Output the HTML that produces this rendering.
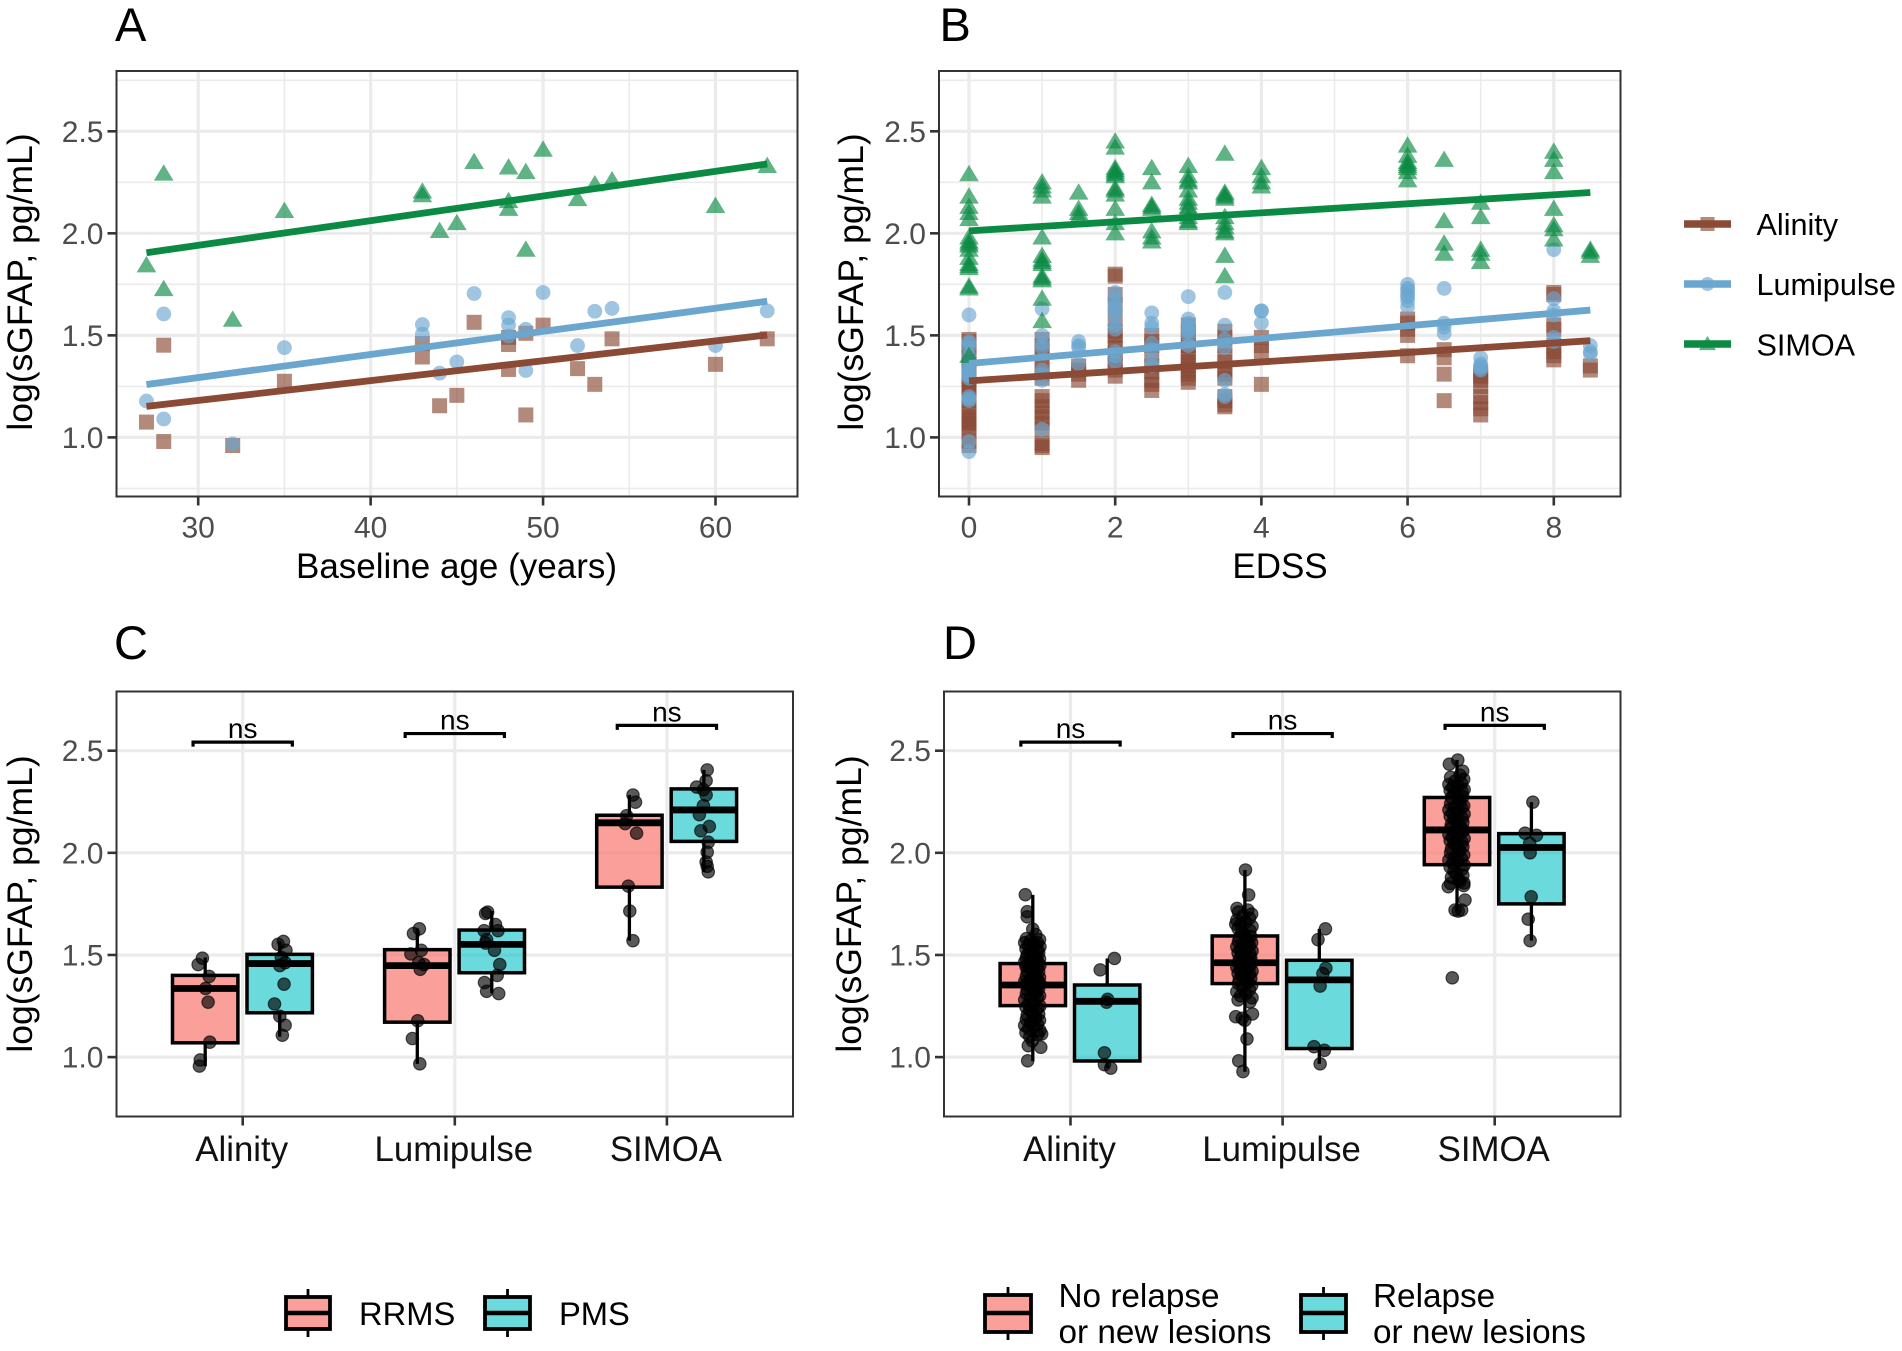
<!DOCTYPE html>
<html lang="en">
<head>
<meta charset="utf-8">
<title>sGFAP chart panels</title>
<style>
html,body{margin:0;padding:0;background:#fff;}
svg{display:block;font-family:"Liberation Sans",Arial,sans-serif;}
</style>
</head>
<body>
<svg id="chart" xmlns="http://www.w3.org/2000/svg" width="1902" height="1351" viewBox="0 0 1902 1351"></svg>
<script>
/* ---------- shared chart text ---------- */
const assays = ["Alinity", "Lumipulse", "SIMOA"];
const yTicks = [1.0, 1.5, 2.0, 2.5];
const yMinorTicks = [0.75, 1.25, 1.75, 2.25, 2.75];
const yTitle = "log(sGFAP, pg/mL)";

/* ---------- Panel A: baseline age ---------- */
const ageTicks = [30, 40, 50, 60];
const ageMinorTicks = [35, 45, 55];
const ageAlinityX = [27,28,28,32,35,43,43,44,45,46,48,48,48,49,49,50,52,53,54,60,63];
const ageAlinityY = [1.075,1.452,0.98,0.96,1.275,1.46,1.394,1.155,1.206,1.564,1.455,1.49,1.333,1.51,1.11,1.55,1.337,1.26,1.483,1.358,1.483];
const ageLumipulseX = [27,28,28,32,35,43,43,44,45,46,48,48,48,49,49,50,52,53,54,60,63];
const ageLumipulseY = [1.178,1.605,1.09,0.968,1.44,1.553,1.506,1.315,1.37,1.705,1.587,1.55,1.497,1.53,1.328,1.71,1.45,1.618,1.632,1.45,1.62];
const ageSimoaX = [27,28,28,32,35,43,43,44,45,46,48,48,48,49,49,50,52,53,54,60,63];
const ageSimoaY = [1.843,2.293,1.727,1.577,2.11,2.205,2.187,2.012,2.05,2.35,2.323,2.158,2.12,2.30,1.92,2.41,2.168,2.24,2.26,2.134,2.33];
const ageFitX = [27, 63];
const ageFitAlinity = [1.152, 1.502];
const ageFitLumipulse = [1.259, 1.667];
const ageFitSimoa = [1.905, 2.34];

/* ---------- Panel B: EDSS ---------- */
const edssTicks = [0, 2, 4, 6, 8];
const edssMinorTicks = [1, 3, 5, 7];
const edssLevels = [0, 1, 1.5, 2, 2.5, 3, 3.5, 4, 6, 6.5, 7, 8, 8.5];
const edssAlinity = [
 [1.48,1.47,1.45,1.43,1.40,1.38,1.36,1.34,1.32,1.30,1.28,1.26,1.24,1.22,1.20,1.18,1.15,1.12,1.10,1.08,1.07,1.05,1.03,0.98,0.96],
 [1.48,1.45,1.42,1.38,1.35,1.31,1.29,1.20,1.18,1.15,1.12,1.10,1.07,1.04,0.97,0.96,0.95],
 [1.35,1.33,1.31,1.28],
 [1.80,1.79,1.70,1.65,1.58,1.52,1.50,1.47,1.44,1.41,1.38,1.35,1.33,1.30],
 [1.50,1.47,1.45,1.40,1.35,1.32,1.28,1.26,1.23],
 [1.55,1.52,1.48,1.45,1.42,1.39,1.37,1.35,1.33,1.31,1.29,1.27],
 [1.52,1.49,1.45,1.40,1.37,1.33,1.31,1.29,1.20,1.18,1.16,1.15],
 [1.49,1.45,1.42,1.26],
 [1.58,1.56,1.53,1.50,1.40],
 [1.43,1.39,1.31,1.18],
 [1.32,1.30,1.28,1.25,1.20,1.17,1.14,1.11],
 [1.71,1.70,1.55,1.53,1.45,1.42,1.40,1.38],
 [1.35,1.33]
];
const edssLumipulse = [
 [1.60,1.47,1.46,1.44,1.40,1.36,1.34,1.33,1.32,1.31,1.30,1.29,1.20,1.19,1.18,0.98,0.93],
 [1.63,1.50,1.46,1.44,1.33,1.31,1.28,1.04],
 [1.47,1.45,1.44,1.36],
 [1.71,1.68,1.66,1.64,1.62,1.60,1.55,1.53,1.42,1.40,1.37],
 [1.61,1.56,1.54,1.46,1.43,1.37,1.35],
 [1.69,1.58,1.56,1.54,1.53,1.52,1.50,1.45],
 [1.71,1.55,1.48,1.44,1.28,1.21,1.20],
 [1.62,1.62,1.56],
 [1.75,1.73,1.72,1.70,1.69,1.67,1.64],
 [1.73,1.56,1.54,1.51],
 [1.39,1.36,1.35,1.34,1.33],
 [1.92,1.68,1.62,1.60,1.49,1.47],
 [1.45,1.42,1.41]
];
const edssSimoa = [
 [2.29,2.18,2.13,2.10,2.07,1.98,1.96,1.95,1.94,1.92,1.88,1.85,1.84,1.83,1.74,1.73,1.40],
 [2.25,2.23,2.21,2.18,1.98,1.89,1.87,1.86,1.85,1.79,1.78,1.77,1.68,1.57],
 [2.20,2.12,2.10,2.08],
 [2.45,2.42,2.32,2.31,2.30,2.29,2.28,2.22,2.21,2.19,2.12,2.05,2.00],
 [2.32,2.25,2.14,2.13,2.12,2.01,1.98,1.96],
 [2.33,2.28,2.26,2.25,2.21,2.17,2.15,2.13,2.12,2.08,2.06,2.05],
 [2.39,2.20,2.19,2.18,2.17,2.08,2.05,2.03,2.01,2.00,1.89,1.79],
 [2.32,2.28,2.25,2.23],
 [2.43,2.38,2.35,2.34,2.33,2.32,2.30,2.26],
 [2.36,2.06,1.95,1.90],
 [2.15,2.08,1.92,1.90,1.86],
 [2.40,2.36,2.30,2.12,2.04,2.02,1.97],
 [1.92,1.91,1.89]
];
const edssFitX = [0, 8.5];
const edssFitAlinity = [1.277, 1.474];
const edssFitLumipulse = [1.362, 1.624];
const edssFitSimoa = [2.012, 2.20];

/* ---------- Panel C: RRMS vs PMS (lowWhisker, q1, median, q3, highWhisker) ---------- */
const rrmsBoxes = [[0.955,1.07,1.336,1.40,1.488],[0.967,1.171,1.448,1.526,1.63],[1.57,1.832,2.147,2.184,2.283]];
const pmsBoxes = [[1.10,1.217,1.458,1.503,1.566],[1.313,1.413,1.552,1.622,1.715],[1.907,2.056,2.21,2.313,2.406]];
const rrmsValues = [
 [1.484,1.453,1.395,1.336,1.269,1.073,0.986,0.956],
 [1.628,1.605,1.523,1.505,1.462,1.453,1.43,1.178,1.091,0.967],
 [2.283,2.248,2.182,2.143,2.096,1.837,1.715,1.57]
];
const rrmsJitter = [
 [-0.19,-0.21,-0.158,-0.175,-0.163,-0.155,-0.2,-0.204],
 [-0.167,-0.195,-0.158,-0.207,-0.17,-0.145,-0.163,-0.175,-0.2,-0.165],
 [-0.16,-0.148,-0.19,-0.197,-0.143,-0.182,-0.175,-0.16]
];
const pmsValues = [
 [1.566,1.552,1.523,1.488,1.462,1.448,1.357,1.26,1.2,1.156,1.107],
 [1.71,1.703,1.649,1.619,1.619,1.575,1.558,1.523,1.453,1.4,1.365,1.322,1.311],
 [2.406,2.353,2.322,2.309,2.283,2.231,2.187,2.129,2.108,2.052,2.003,1.955,1.934,1.907]
];
const pmsJitter = [
 [0.192,0.167,0.204,0.182,0.2,0.175,0.195,0.15,0.175,0.2,0.187],
 [0.155,0.145,0.192,0.138,0.204,0.15,0.145,0.187,0.212,0.2,0.14,0.15,0.207],
 [0.19,0.185,0.14,0.172,0.185,0.172,0.153,0.2,0.16,0.195,0.19,0.185,0.19,0.195]
];
const bracketHeights = [2.542, 2.584, 2.624];
const bracketLabels = ["ns", "ns", "ns"];

/* ---------- Panel D: relapse / lesions ---------- */
const noRelapseBoxes = [[0.98,1.252,1.353,1.458,1.794],[0.928,1.36,1.462,1.593,1.916],[1.715,1.942,2.112,2.271,2.455]];
const relapseBoxes = [[0.946,0.981,1.273,1.353,1.483],[0.967,1.042,1.378,1.474,1.628],[1.57,1.75,2.026,2.094,2.248]];
const noRelapseValues = [
 [1.60,1.58,1.575,1.57,1.56,1.56,1.555,1.55,1.54,1.53,1.525,1.52,1.52,1.51,1.50,1.495,1.49,1.485,1.48,1.47,1.47,1.465,1.46,1.455,1.45,1.445,1.44,1.435,1.43,1.42,1.42,1.41,1.40,1.395,1.39,1.385,1.38,1.37,1.365,1.36,1.36,1.355,1.35,1.345,1.34,1.335,1.33,1.32,1.315,1.31,1.30,1.295,1.29,1.28,1.27,1.26,1.25,1.245,1.24,1.23,1.22,1.21,1.205,1.20,1.19,1.185,1.18,1.17,1.16,1.155,1.15,1.14,1.13,1.12,1.11,1.10,1.08],
 [1.72,1.71,1.70,1.69,1.68,1.67,1.66,1.65,1.64,1.63,1.62,1.61,1.60,1.59,1.585,1.58,1.57,1.565,1.56,1.55,1.545,1.54,1.53,1.525,1.52,1.51,1.505,1.50,1.49,1.485,1.48,1.47,1.465,1.46,1.46,1.45,1.445,1.44,1.43,1.425,1.42,1.41,1.405,1.40,1.39,1.385,1.38,1.37,1.365,1.36,1.35,1.34,1.33,1.32,1.31,1.30,1.29,1.28,1.27],
 [2.38,2.37,2.36,2.35,2.34,2.335,2.33,2.32,2.31,2.305,2.30,2.29,2.28,2.275,2.27,2.26,2.25,2.24,2.23,2.225,2.22,2.21,2.20,2.195,2.19,2.18,2.17,2.165,2.16,2.15,2.14,2.135,2.13,2.12,2.11,2.105,2.10,2.09,2.08,2.075,2.07,2.06,2.05,2.045,2.04,2.03,2.02,2.015,2.01,2.00,1.99,1.98,1.97,1.965,1.96,1.95,1.94,1.93,1.92,1.91,1.90,1.89,1.88,1.87,1.86,1.85,1.84]
];
const noRelapseCoreJitter = [0.016,-0.028,0.034,-0.008,0.024,-0.036,0.006,-0.018,0.036,-0.03,0.026,-0.012,0,0.03,-0.024,0.01];
const noRelapseTailValues = [
 [1.795,1.712,1.687,1.626,1.113,1.056,1.048,0.982],
 [1.916,1.794,1.728,1.651,1.198,1.211,1.089,0.982,0.929,1.19,1.18],
 [2.454,2.434,2.40,1.834,1.852,1.769,1.72,1.72,1.715,1.388]
];
const noRelapseTailJitter = [
 [-0.213,-0.204,-0.204,-0.178,-0.136,-0.199,-0.14,-0.202],
 [-0.175,-0.16,-0.215,-0.221,-0.221,-0.142,-0.168,-0.207,-0.187,-0.19,-0.178],
 [-0.174,-0.214,-0.151,-0.219,-0.145,-0.14,-0.187,-0.156,-0.172,-0.2]
];
const relapseValues = [
 [1.483,1.427,1.283,1.269,1.021,0.963,0.946],
 [1.628,1.575,1.435,1.409,1.348,1.051,1.033,0.967],
 [2.248,2.096,2.086,2.047,2.0,1.785,1.675,1.57]
];
const relapseJitter = [
 [0.207,0.14,0.175,0.17,0.16,0.16,0.19],
 [0.202,0.167,0.204,0.19,0.177,0.148,0.197,0.177],
 [0.18,0.143,0.197,0.165,0.167,0.172,0.158,0.167]
];

/* ---------- drawing ---------- */
const NS = "http://www.w3.org/2000/svg";
const root = document.getElementById("chart");
const BROWN = "#8a4a35", BLUE = "#6ba6cf", GREEN = "#0b8a43";
const SALMON = "#f8766d", TEAL = "#00bfc4";

function mk(tag, attrs, parent) {
  const el = document.createElementNS(NS, tag);
  for (const k in attrs) el.setAttribute(k, attrs[k]);
  (parent || root).appendChild(el);
  return el;
}
function txt(str, x, y, size, fill, anchor, parent, rot) {
  const el = mk("text", {x: x, y: y, "font-size": size, fill: fill, "text-anchor": anchor}, parent);
  if (rot) el.setAttribute("transform", "rotate(-90 " + x + " " + y + ")");
  el.textContent = str;
  return el;
}
function linear(d0, d1, r0, r1) { return v => r0 + (v - d0) * (r1 - r0) / (d1 - d0); }

function panelFrame(name, box, yScale, letter, lx, ly, titleX, titleY) {
  const g = mk("g", {});
  
  
  const l = txt(letter, lx, ly, 47, "#000", "start", g);
  
  
  const t = txt(yTitle, titleX, titleY, 35.5, "#000", "middle", g, true);
  
  
  return g;
}
function grid(g, box, yScale, xScale, xMajor, xMinor, withYMinor) {
  if (withYMinor) yMinorTicks.forEach(v => mk("line", {x1: box.l, x2: box.r, y1: yScale(v), y2: yScale(v), stroke: "#ebebeb", "stroke-width": 1.6}, g));
  xMinor.forEach(v => mk("line", {x1: xScale(v), x2: xScale(v), y1: box.t, y2: box.b, stroke: "#ebebeb", "stroke-width": 1.6}, g));
  yTicks.forEach(v => mk("line", {x1: box.l, x2: box.r, y1: yScale(v), y2: yScale(v), stroke: "#ebebeb", "stroke-width": 3.2}, g));
  xMajor.forEach(v => mk("line", {x1: xScale(v), x2: xScale(v), y1: box.t, y2: box.b, stroke: "#ebebeb", "stroke-width": 3.2}, g));
}
function axes(g, box, yScale, xPositions, xLabels, xSize, xBaseline) {
  mk("rect", {x: box.l, y: box.t, width: box.r - box.l, height: box.b - box.t, fill: "none", stroke: "#333", "stroke-width": 2}, g);
  yTicks.forEach(v => {
    mk("line", {x1: box.l - 9, x2: box.l, y1: yScale(v), y2: yScale(v), stroke: "#333", "stroke-width": 2.6}, g);
    const lbl = txt(v.toFixed(1), box.l - 13, yScale(v) + 10.5, 30, "#4d4d4d", "end", g);
    
    
  });
  xPositions.forEach((p, i) => {
    mk("line", {x1: p, x2: p, y1: box.b, y2: box.b + 9, stroke: "#333", "stroke-width": 2.6}, g);
    const lbl = txt(String(xLabels[i]), xSize > 32 ? p - 1 : p, xBaseline, xSize, xSize > 32 ? "#111" : "#4d4d4d", "middle", g);
    
    
  });
}
function square(g, cx, cy, color, s) {
  return mk("rect", {x: cx - s / 2, y: cy - s / 2, width: s, height: s, fill: color, "fill-opacity": 0.65}, g);
}
function circle(g, cx, cy, color, r) {
  return mk("circle", {cx: cx, cy: cy, r: r, fill: color, "fill-opacity": 0.65}, g);
}
function triangle(g, cx, cy, color, r) {
  const pts = [[cx, cy - r * 0.95], [cx + r, cy + r * 0.72], [cx - r, cy + r * 0.72]].map(p => p.join(",")).join(" ");
  return mk("polygon", {points: pts, fill: color, "fill-opacity": 0.65}, g);
}
function fitLine(g, xScale, yScale, xs, ys, color, name) {
  const ln = mk("line", {x1: xScale(xs[0]), x2: xScale(xs[1]), y1: yScale(ys[0]), y2: yScale(ys[1]), stroke: color, "stroke-width": 6.8}, g);
  
  
}

/* Panel A */
(function () {
  const box = {l: 116.5, r: 797.5, t: 71, b: 496.5};
  const y = linear(1.0, 2.5, 437.4, 131.3);
  const x = linear(30, 60, 198.2, 715.5);
  const g = panelFrame("panel-a-age", box, y, "A", 115, 41, 32, 282);
  grid(g, box, y, x, ageTicks, ageMinorTicks, true);
  ageAlinityX.forEach((v, i) => {
    const m = square(g, x(v), y(ageAlinityY[i]), BROWN, 15);
    
    
  });
  ageLumipulseX.forEach((v, i) => {
    const m = circle(g, x(v), y(ageLumipulseY[i]), BLUE, 7.4);
    
    
  });
  ageSimoaX.forEach((v, i) => {
    const m = triangle(g, x(v), y(ageSimoaY[i]), GREEN, 9.8);
    
    
  });
  fitLine(g, x, y, ageFitX, ageFitAlinity, BROWN, "alinity-fit-line");
  fitLine(g, x, y, ageFitX, ageFitLumipulse, BLUE, "lumipulse-fit-line");
  fitLine(g, x, y, ageFitX, ageFitSimoa, GREEN, "simoa-fit-line");
  axes(g, box, y, ageTicks.map(x), ageTicks, 30, 537.5);
  const t = txt("Baseline age (years)", 456.5, 578, 35, "#000", "middle", g);
  
  
})();

/* Panel B */
(function () {
  const box = {l: 939, r: 1620.5, t: 71, b: 496.5};
  const y = linear(1.0, 2.5, 437.4, 131.3);
  const x = linear(0, 8, 969, 1553.8);
  const g = panelFrame("panel-b-edss", box, y, "B", 939.5, 41, 863, 282);
  grid(g, box, y, x, edssTicks, edssMinorTicks, true);
  edssLevels.forEach((lvl, i) => edssAlinity[i].forEach(v => {
    const m = square(g, x(lvl), y(v), BROWN, 15);
    
    
  }));
  edssLevels.forEach((lvl, i) => edssLumipulse[i].forEach(v => {
    const m = circle(g, x(lvl), y(v), BLUE, 7.4);
    
    
  }));
  edssLevels.forEach((lvl, i) => edssSimoa[i].forEach(v => {
    const m = triangle(g, x(lvl), y(v), GREEN, 9.8);
    
    
  }));
  fitLine(g, x, y, edssFitX, edssFitAlinity, BROWN, "alinity-fit-line");
  fitLine(g, x, y, edssFitX, edssFitLumipulse, BLUE, "lumipulse-fit-line");
  fitLine(g, x, y, edssFitX, edssFitSimoa, GREEN, "simoa-fit-line");
  axes(g, box, y, edssTicks.map(x), edssTicks, 30, 537.5);
  const t = txt("EDSS", 1280, 578, 35, "#000", "middle", g);
  
  
})();

/* Box panels */
function drawBox(g, cx, halfW, s, y, fill, opacity, name) {
  const bg = mk("g", {}, g);
  
  
  mk("line", {x1: cx, x2: cx, y1: y(s[0]), y2: y(s[1]), stroke: "#000", "stroke-width": 3.3}, bg);
  mk("line", {x1: cx, x2: cx, y1: y(s[3]), y2: y(s[4]), stroke: "#000", "stroke-width": 3.3}, bg);
  mk("rect", {x: cx - halfW, y: y(s[3]), width: halfW * 2, height: y(s[1]) - y(s[3]), fill: fill, "fill-opacity": opacity, stroke: "#000", "stroke-width": 3.5}, bg);
  mk("line", {x1: cx - halfW, x2: cx + halfW, y1: y(s[2]), y2: y(s[2]), stroke: "#000", "stroke-width": 6.8}, bg);
}
function dots(g, catX, unit, vals, jit, y) {
  vals.forEach((v, i) => {
    const d = mk("circle", {cx: catX + jit[i] * unit, cy: y(v), r: 6.2, fill: "#000", "fill-opacity": 0.65, stroke: "#000", "stroke-opacity": 0.65, "stroke-width": 1.2}, g);
    
    
  });
}
function brackets(g, centers, unit, y) {
  centers.forEach((c, i) => {
    const hw = 0.234 * unit, yy = y(bracketHeights[i]);
    const b = mk("path", {d: "M" + (c - hw) + " " + (yy + 4.5) + "V" + yy + "H" + (c + hw) + "V" + (yy + 4.5), fill: "none", stroke: "#000", "stroke-width": 3.2}, g);
    
    
    const t = txt(bracketLabels[i], c, yy - 4, 28, "#000", "middle", g);
    
    
  });
}

/* Panel C */
(function () {
  const box = {l: 116.5, r: 793, t: 691.5, b: 1116.5};
  const y = linear(1.0, 2.5, 1057.1, 750.7);
  const unit = 212.1;
  const x = linear(0, 2, 242.7, 666.9);
  const centers = assays.map((a, i) => x(i));
  const g = panelFrame("panel-c-ms-type", box, y, "C", 114, 659, 32, 904);
  grid(g, box, y, x, [0, 1, 2], [], false);
  assays.forEach((a, i) => {
    drawBox(g, centers[i] - 37.5, 32.7, rrmsBoxes[i], y, SALMON, 0.7, "rrms-box-" + a.toLowerCase());
    drawBox(g, centers[i] + 37, 32.7, pmsBoxes[i], y, TEAL, 0.58, "pms-box-" + a.toLowerCase());
  });
  assays.forEach((a, i) => {
    dots(g, centers[i], unit, rrmsValues[i], rrmsJitter[i], y);
    dots(g, centers[i], unit, pmsValues[i], pmsJitter[i], y);
  });
  brackets(g, centers, unit, y);
  axes(g, box, y, centers, assays, 34.8, 1161);
})();

/* Panel D */
(function () {
  const box = {l: 944, r: 1620.5, t: 691.5, b: 1116.5};
  const y = linear(1.0, 2.5, 1057.1, 750.7);
  const unit = 212.1;
  const x = linear(0, 2, 1070.5, 1494.7);
  const centers = assays.map((a, i) => x(i));
  const g = panelFrame("panel-d-relapse", box, y, "D", 943, 659, 861, 904);
  grid(g, box, y, x, [0, 1, 2], [], false);
  assays.forEach((a, i) => {
    drawBox(g, centers[i] - 37.7, 32.7, noRelapseBoxes[i], y, SALMON, 0.7, "no-relapse-box-" + a.toLowerCase());
    drawBox(g, centers[i] + 36.7, 32.7, relapseBoxes[i], y, TEAL, 0.58, "relapse-box-" + a.toLowerCase());
  });
  assays.forEach((a, i) => {
    const jit = noRelapseValues[i].map((v, k) => -0.18 + noRelapseCoreJitter[k % noRelapseCoreJitter.length]);
    dots(g, centers[i], unit, noRelapseValues[i], jit, y);
    dots(g, centers[i], unit, noRelapseTailValues[i], noRelapseTailJitter[i], y);
    dots(g, centers[i], unit, relapseValues[i], relapseJitter[i], y);
  });
  brackets(g, centers, unit, y);
  axes(g, box, y, centers, assays, 34.8, 1161);
})();

/* Right legend */
(function () {
  const g = mk("g", {});
  
  
  const rows = [[224, 235, BROWN], [284, 295, BLUE], [344, 355.5, GREEN]];
  rows.forEach((row, i) => {
    const e = mk("g", {}, g);
    
    
    if (i === 0) square(e, 1707.5, row[0], row[2], 14);
    if (i === 1) circle(e, 1707.5, row[0], row[2], 7);
    if (i === 2) triangle(e, 1707.5, row[0], row[2], 8.5);
    mk("line", {x1: 1684, x2: 1731, y1: row[0], y2: row[0], stroke: row[2], "stroke-width": 7.5}, e);
    txt(assays[i], 1756.5, row[1], 30.6, "#000", "start", e);
  });
})();

/* Bottom legends */
function boxKey(g, x0, x1, top, bottom, mid, wTop, wBottom, fill, opacity) {
  const cx = (x0 + x1) / 2;
  const e = mk("g", {}, g);
  
  
  mk("line", {x1: cx, x2: cx, y1: wTop, y2: wBottom, stroke: "#000", "stroke-width": 2.8}, e);
  mk("rect", {x: x0, y: top, width: x1 - x0, height: bottom - top, fill: "#fff", stroke: "none"}, e);
  mk("rect", {x: x0, y: top, width: x1 - x0, height: bottom - top, fill: fill, "fill-opacity": opacity, stroke: "#000", "stroke-width": 3.8}, e);
  mk("line", {x1: x0, x2: x1, y1: mid, y2: mid, stroke: "#000", "stroke-width": 4.5}, e);
}
(function () {
  const g = mk("g", {});
  
  
  boxKey(g, 286, 330, 1297, 1329, 1313, 1289, 1337, SALMON, 0.7);
  txt("RRMS", 359, 1325, 32.7, "#000", "start", g);
  boxKey(g, 485, 530, 1297, 1329, 1313, 1289, 1337, TEAL, 0.58);
  txt("PMS", 559, 1325, 32.7, "#000", "start", g);

  const h = mk("g", {});
  
  
  boxKey(h, 985, 1031, 1295, 1332, 1313, 1287, 1340, SALMON, 0.7);
  txt("No relapse", 1058.5, 1307, 33.3, "#000", "start", h);
  txt("or new lesions", 1058.5, 1343, 33.3, "#000", "start", h);
  boxKey(h, 1301, 1346, 1295, 1332, 1313, 1287, 1340, TEAL, 0.58);
  txt("Relapse", 1373, 1307, 33.3, "#000", "start", h);
  txt("or new lesions", 1373, 1343, 33.3, "#000", "start", h);
})();
</script>
</body>
</html>
